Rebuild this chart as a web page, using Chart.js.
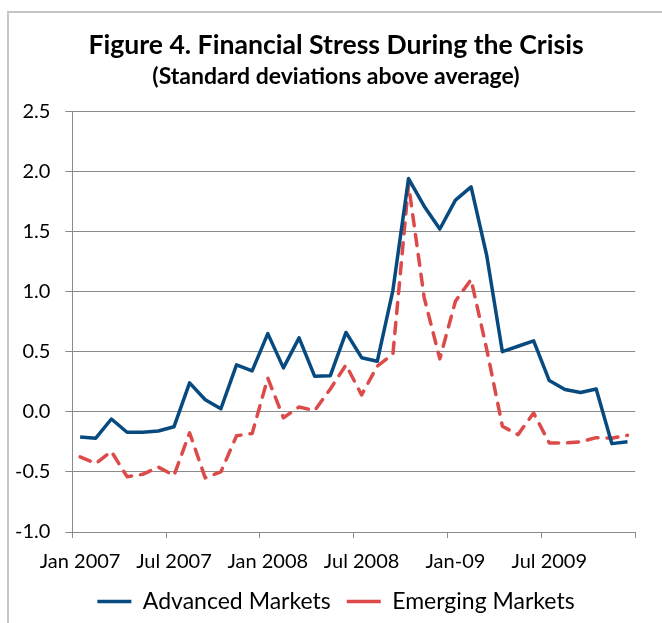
<!DOCTYPE html>
<html>
<head>
<meta charset="utf-8">
<script src="https://cdn.jsdelivr.net/npm/chart.js@4.4.1/dist/chart.umd.min.js"></script>
<style>
  html, body { margin: 0; padding: 0; background: #ffffff; width: 662px; height: 623px; overflow: hidden; }
  #frame { position: absolute; left: 7px; top: 11px; width: 720px; height: 720px;
           border-left: 2px solid #c6c6c6; border-top: 2px solid #c6c6c6; }
  #wrap { position: absolute; left: 0; top: 0; width: 662px; height: 623px; }
</style>
</head>
<body>
<div id="frame"></div>
<div id="wrap"><canvas id="c" width="662" height="623"></canvas></div>
<script>
// ---- Data ----
const categories = [
  'Jan 2007','Feb 2007','Mar 2007','Apr 2007','May 2007','Jun 2007',
  'Jul 2007','Aug 2007','Sep 2007','Oct 2007','Nov 2007','Dec 2007',
  'Jan 2008','Feb 2008','Mar 2008','Apr 2008','May 2008','Jun 2008',
  'Jul 2008','Aug 2008','Sep 2008','Oct 2008','Nov 2008','Dec 2008',
  'Jan 2009','Feb 2009','Mar 2009','Apr 2009','May 2009','Jun 2009',
  'Jul 2009','Aug 2009','Sep 2009','Oct 2009','Nov 2009','Dec 2009'
];
const tickLabels = ['Jan 2007','Jul 2007','Jan 2008','Jul 2008','Jan-09','Jul 2009'];
const advancedMarkets = [
  -0.21, -0.22, -0.06, -0.17, -0.17, -0.16,
  -0.125, 0.24, 0.10, 0.025, 0.39, 0.34,
  0.65, 0.365, 0.615, 0.295, 0.30, 0.66,
  0.45, 0.42, 1.01, 1.94, 1.71, 1.52,
  1.76, 1.87, 1.30, 0.50, 0.545, 0.59,
  0.26, 0.185, 0.16, 0.19, -0.265, -0.25
];
const emergingMarkets = [
  -0.375, -0.43, -0.33, -0.54, -0.52, -0.46,
  -0.53, -0.175, -0.55, -0.50, -0.20, -0.18,
  0.28, -0.05, 0.04, 0.01, 0.19, 0.39,
  0.14, 0.38, 0.48, 1.89, 0.95, 0.44,
  0.92, 1.10, 0.52, -0.12, -0.19, -0.01,
  -0.26, -0.26, -0.25, -0.215, -0.22, -0.195
];
const seriesNames = ['Advanced Markets', 'Emerging Markets'];
const yTicks = { min: -1.0, max: 2.5, step: 0.5 };

// ---- Styling ----
const FONT = 'Lato';
const GRID = '#8a8a8a';
const BLUE = '#064a80';
const RED = '#dc4a4a';
const PAD_LEFT = 10;

function build() {
  const ctx = document.getElementById('c').getContext('2d');
  new Chart(ctx, {
    type: 'line',
    data: {
      labels: categories,
      datasets: [
        {
          label: seriesNames[0],
          data: advancedMarkets,
          borderColor: BLUE,
          backgroundColor: BLUE,
          borderWidth: 3.5,
          pointRadius: 0,
          tension: 0,
          borderJoinStyle: 'round',
          borderCapStyle: 'butt',
          fill: false
        },
        {
          label: seriesNames[1],
          data: emergingMarkets,
          borderColor: RED,
          backgroundColor: RED,
          borderWidth: 3.5,
          borderDash: [11, 9],
          borderCapStyle: 'round',
          borderJoinStyle: 'round',
          pointRadius: 0,
          tension: 0,
          fill: false
        }
      ]
    },
    options: {
      responsive: false,
      animation: false,
      devicePixelRatio: 1,
      layout: { padding: { left: PAD_LEFT, right: 0, top: 0, bottom: 0 } },
      plugins: {
        title: {
          display: true,
          text: 'Figure 4. Financial Stress During the Crisis',
          color: '#000',
          font: { family: FONT, size: 26.6, weight: 'bold', lineHeight: 1.2 },
          padding: { top: 29, bottom: 0 }
        },
        subtitle: {
          display: true,
          text: '(Standard deviations above average)',
          color: '#000',
          font: { family: FONT, size: 23, weight: 'bold', lineHeight: 1.2 },
          padding: { top: 2.2, bottom: 20.5 }
        },
        legend: {
          position: 'bottom',
          labels: {
            usePointStyle: true,
            pointStyle: 'line',
            pointStyleWidth: 34,
            color: '#000',
            font: { family: FONT, size: 23 },
            padding: 16
          }
        },
        tooltip: { enabled: false }
      },
      scales: {
        x: {
          type: 'category',
          offset: true,
          afterFit: (s) => { s.height = 42; s.paddingRight = 26.7; },
          grid: {
            offset: true,
            drawOnChartArea: false,
            drawTicks: true,
            tickLength: 6,
            lineWidth: 1,
            color: (c) => (c.index === undefined || c.index % 6 === 0) ? GRID : 'rgba(0,0,0,0)'
          },
          border: { display: true, color: GRID, width: 1 },
          ticks: {
            autoSkip: false,
            maxRotation: 0,
            minRotation: 0,
            padding: 12,
            color: '#000',
            font: { family: FONT, size: 20, lineHeight: 1.2 },
            callback: (v, i) => (i % 6 === 0 ? tickLabels[i / 6] : '')
          }
        },
        y: {
          min: yTicks.min,
          max: yTicks.max,
          afterFit: (s) => { s.width = 72.3 - PAD_LEFT; },
          grid: {
            color: GRID,
            lineWidth: 1,
            drawTicks: true,
            tickLength: 7
          },
          border: { display: true, color: GRID, width: 1 },
          ticks: {
            stepSize: yTicks.step,
            padding: 15,
            color: '#000',
            font: { family: FONT, size: 20 },
            callback: (v) => Number(v).toFixed(1)
          }
        }
      }
    }
  });
}

const fontLoads = [
  document.fonts.load('bold 25px Lato'),
  document.fonts.load('20px Lato')
];
Promise.race([
  Promise.all(fontLoads),
  new Promise(r => setTimeout(r, 800))
]).then(build, build);
</script>
</body>
</html>
